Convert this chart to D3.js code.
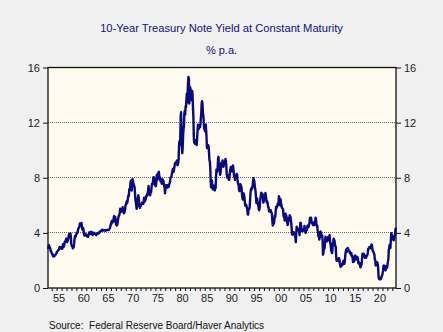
<!DOCTYPE html>
<html>
<head>
<meta charset="utf-8">
<script src="https://cdn.jsdelivr.net/npm/d3@7"></script>
<style>
  html, body { margin: 0; padding: 0; background: #f0f0f0; }
  svg { display: block; font-family: "Liberation Sans", Arial, sans-serif; }
</style>
</head>
<body>
<svg id="chart" width="443" height="332"></svg>
<script>
// Monthly 10-year constant maturity yield, % p.a., starting April 1953
const startYear = 1953
const startMonth = 4
const yields = [
  2.83, 3.05, 3.11, 2.93, 2.95, 2.87, 2.66, 2.68, 2.59,
  2.48, 2.47, 2.37, 2.29, 2.37, 2.38, 2.30, 2.36, 2.38, 2.43, 2.48, 2.51,
  2.61, 2.65, 2.68, 2.75, 2.76, 2.78, 2.90, 2.97, 2.97, 2.88, 2.89, 2.96,
  2.90, 2.84, 2.96, 3.18, 3.07, 3.00, 3.11, 3.33, 3.38, 3.34, 3.49, 3.59,
  3.46, 3.34, 3.41, 3.48, 3.60, 3.80, 3.93, 3.93, 3.92, 3.97, 3.72, 3.21,
  3.09, 3.05, 2.98, 2.88, 2.92, 2.97, 3.20, 3.54, 3.76, 3.80, 3.74, 3.86,
  4.02, 3.96, 3.99, 4.12, 4.31, 4.34, 4.40, 4.43, 4.68, 4.53, 4.53, 4.69,
  4.72, 4.49, 4.25, 4.28, 4.35, 4.15, 3.90, 3.80, 3.80, 3.89, 3.93, 3.84,
  3.84, 3.78, 3.74, 3.78, 3.71, 3.88, 3.92, 4.04, 3.98, 3.92, 3.94, 4.06,
  4.08, 4.04, 3.93, 3.84, 3.87, 3.91, 4.01, 3.98, 3.98, 3.93, 3.92, 3.86,
  3.83, 3.92, 3.93, 3.97, 3.93, 3.99, 4.02, 4.00, 4.08, 4.11, 4.12, 4.13,
  4.17, 4.15, 4.22, 4.23, 4.20, 4.17, 4.19, 4.19, 4.20, 4.19, 4.15, 4.18,
  4.19, 4.21, 4.21, 4.20, 4.21, 4.21, 4.20, 4.25, 4.29, 4.35, 4.45, 4.62,
  4.61, 4.83, 4.87, 4.75, 4.78, 4.81, 5.02, 5.22, 5.18, 5.01, 5.16, 4.84,
  4.58, 4.63, 4.54, 4.59, 4.85, 5.02, 5.16, 5.28, 5.30, 5.48, 5.75, 5.70,
  5.53, 5.56, 5.74, 5.64, 5.87, 5.72, 5.50, 5.42, 5.46, 5.58, 5.70, 6.03,
  6.04, 6.19, 6.30, 6.17, 6.32, 6.57, 6.72, 6.69, 7.16, 7.10, 7.14, 7.65,
  7.79, 7.24, 7.07, 7.39, 7.91, 7.84, 7.46, 7.53, 7.39, 7.33, 6.84, 6.39,
  6.24, 6.00, 5.74, 5.93, 6.43, 6.52, 6.73, 6.58, 6.14, 5.93, 5.81, 5.93,
  5.95, 6.08, 6.07, 6.19, 6.13, 6.11, 6.11, 6.21, 6.55, 6.48, 6.28, 6.36,
  6.46, 6.64, 6.71, 6.67, 6.85, 6.90, 7.13, 7.40, 7.09, 6.79, 6.73, 6.74,
  6.99, 6.96, 7.21, 7.51, 7.58, 7.54, 7.81, 8.04, 8.04, 7.90, 7.68, 7.43,
  7.50, 7.39, 7.73, 8.23, 8.06, 7.86, 8.06, 8.40, 8.43, 8.14, 8.05, 8.00,
  7.74, 7.79, 7.73, 7.56, 7.90, 7.86, 7.83, 7.77, 7.59, 7.41, 7.29, 6.87,
  7.21, 7.39, 7.46, 7.37, 7.46, 7.28, 7.33, 7.40, 7.34, 7.52, 7.58, 7.69,
  7.96, 8.03, 8.04, 8.15, 8.35, 8.46, 8.64, 8.41, 8.42, 8.64, 8.81, 9.01,
  9.10, 9.10, 9.12, 9.18, 9.25, 8.91, 8.95, 9.03, 9.33, 10.30, 10.65, 10.39,
  10.80, 12.41, 12.75, 11.47, 10.18, 9.78, 10.25, 11.10, 11.51, 11.75, 12.68, 12.84,
  12.57, 13.19, 13.12, 13.68, 14.10, 13.47, 14.28, 14.94, 15.32, 15.15, 13.39, 13.72,
  14.59, 14.43, 13.86, 13.87, 13.62, 14.30, 13.95, 13.06, 12.34, 10.91, 10.55, 10.54,
  10.46, 10.72, 10.51, 10.40, 10.38, 10.85, 11.38, 11.85, 11.65, 11.54, 11.69, 11.83,
  11.67, 11.84, 12.32, 12.63, 13.41, 13.56, 13.36, 12.72, 12.52, 12.16, 11.57, 11.50,
  11.38, 11.51, 11.86, 11.43, 10.85, 10.16, 10.31, 10.33, 10.37, 10.24, 9.78, 9.26,
  9.19, 8.70, 7.78, 7.30, 7.71, 7.80, 7.30, 7.17, 7.45, 7.43, 7.25, 7.11,
  7.08, 7.25, 7.25, 8.02, 8.61, 8.40, 8.45, 8.76, 9.42, 9.52, 8.86, 8.99,
  8.67, 8.21, 8.37, 8.72, 9.09, 8.92, 9.06, 9.26, 8.98, 8.80, 8.96, 9.11,
  9.09, 9.17, 9.36, 9.18, 8.86, 8.28, 8.02, 8.11, 8.19, 8.01, 7.87, 7.84,
  8.21, 8.47, 8.59, 8.79, 8.76, 8.48, 8.47, 8.75, 8.89, 8.72, 8.39, 8.08,
  8.09, 7.85, 8.11, 8.04, 8.07, 8.28, 8.27, 7.90, 7.65, 7.53, 7.42, 7.09,
  7.03, 7.34, 7.54, 7.48, 7.39, 7.26, 6.84, 6.59, 6.42, 6.59, 6.87, 6.77,
  6.60, 6.26, 5.98, 5.97, 6.04, 5.96, 5.81, 5.68, 5.36, 5.33, 5.72, 5.77,
  5.75, 5.97, 6.48, 6.97, 7.18, 7.10, 7.30, 7.24, 7.46, 7.74, 7.96, 7.81,
  7.78, 7.47, 7.20, 7.06, 6.63, 6.17, 6.28, 6.49, 6.20, 6.04, 5.93, 5.71,
  5.65, 5.81, 6.27, 6.51, 6.74, 6.91, 6.87, 6.64, 6.83, 6.53, 6.20, 6.30,
  6.58, 6.42, 6.69, 6.89, 6.71, 6.49, 6.22, 6.30, 6.21, 6.03, 5.88, 5.81,
  5.54, 5.57, 5.65, 5.64, 5.65, 5.50, 5.46, 5.34, 4.81, 4.53, 4.83, 4.65,
  4.72, 5.00, 5.23, 5.18, 5.54, 5.90, 5.79, 5.94, 5.92, 6.11, 6.03, 6.28,
  6.66, 6.52, 6.26, 5.99, 6.44, 6.10, 6.05, 5.83, 5.80, 5.74, 5.72, 5.24,
  5.16, 5.10, 4.89, 5.14, 5.39, 5.28, 5.24, 4.97, 4.73, 4.57, 4.65, 5.09,
  5.04, 4.91, 5.28, 5.21, 5.16, 4.93, 4.65, 4.26, 3.87, 3.94, 4.05, 4.03,
  4.05, 3.90, 3.81, 3.96, 3.57, 3.33, 3.98, 4.45, 4.27, 4.29, 4.30, 4.27,
  4.15, 4.08, 3.83, 4.35, 4.72, 4.73, 4.50, 4.28, 4.13, 4.10, 4.19, 4.23,
  4.22, 4.17, 4.50, 4.34, 4.14, 4.00, 4.18, 4.26, 4.20, 4.46, 4.54, 4.47,
  4.42, 4.57, 4.72, 4.99, 5.11, 5.11, 5.09, 4.88, 4.72, 4.73, 4.60, 4.56,
  4.76, 4.72, 4.56, 4.69, 4.75, 5.10, 5.00, 4.67, 4.52, 4.53, 4.15, 4.10,
  3.74, 3.74, 3.51, 3.68, 3.88, 4.10, 4.01, 3.89, 3.69, 3.81, 3.53, 2.42,
  2.52, 2.87, 2.82, 2.93, 3.29, 3.72, 3.56, 3.59, 3.40, 3.39, 3.40, 3.59,
  3.73, 3.69, 3.73, 3.85, 3.42, 3.20, 3.01, 2.70, 2.65, 2.54, 2.76, 3.29,
  3.39, 3.58, 3.41, 3.46, 3.17, 3.00, 3.00, 2.30, 1.98, 2.15, 2.01, 1.98,
  1.97, 1.97, 2.17, 2.05, 1.80, 1.62, 1.53, 1.68, 1.72, 1.75, 1.65, 1.72,
  1.91, 1.98, 1.96, 1.76, 1.93, 2.30, 2.58, 2.74, 2.81, 2.62, 2.72, 2.90,
  2.86, 2.71, 2.72, 2.71, 2.56, 2.60, 2.54, 2.42, 2.53, 2.30, 2.33, 2.21,
  1.88, 1.98, 2.04, 1.94, 2.20, 2.36, 2.32, 2.17, 2.17, 2.07, 2.26, 2.24,
  2.09, 1.78, 1.89, 1.81, 1.81, 1.64, 1.50, 1.56, 1.63, 1.76, 2.14, 2.49,
  2.43, 2.42, 2.48, 2.30, 2.30, 2.19, 2.32, 2.21, 2.20, 2.36, 2.35, 2.40,
  2.58, 2.86, 2.84, 2.87, 2.98, 2.91, 2.89, 2.89, 3.00, 3.15, 3.12, 2.83,
  2.71, 2.68, 2.57, 2.53, 2.40, 2.07, 2.06, 1.63, 1.70, 1.71, 1.81, 1.86,
  1.76, 1.50, 0.87, 0.66, 0.67, 0.73, 0.62, 0.65, 0.68, 0.79, 0.87, 0.93,
  1.08, 1.26, 1.61, 1.64, 1.62, 1.52, 1.32, 1.28, 1.37, 1.58, 1.56, 1.47,
  1.76, 1.93, 2.13, 2.75, 2.90, 3.14, 2.90, 2.90, 3.52, 3.98, 3.89, 3.62,
  3.53, 3.75, 3.66, 3.46, 3.57, 3.75, 3.90, 4.17, 4.38
]

const yTicks = [0, 4, 8, 12, 16]
const gridValues = [4, 8, 12]
const labelYears = [1955, 1960, 1965, 1970, 1975, 1980, 1985, 1990, 1995, 2000, 2005, 2010, 2015, 2020]

const title = "10-Year Treasury Note Yield at Constant Maturity"
const subtitle = "% p.a."
const source = "Source:  Federal Reserve Board/Haver Analytics"

const W = 443, H = 332
const PLOT = { LEFT: 48, RIGHT: 396, TOP: 67.5, BOTTOM: 288 }
const NAVY = "#10107a"

const svg = d3.select("#chart")

// convert month index to fractional year (mid-month)
const points = yields.map((v, i) => {
  const m = startMonth - 1 + i
  return [startYear + m / 12 + 1 / 24, v]
})

const xScale = d3.scaleLinear()
  .domain([startYear + (startMonth - 1) / 12, points[points.length - 1][0] + 1 / 24])
  .range([PLOT.LEFT, PLOT.RIGHT])

const yScale = d3.scaleLinear()
  .domain([0, 16])
  .range([PLOT.BOTTOM, PLOT.TOP])

svg.append("rect")
  .attr("width", W).attr("height", H)
  .attr("fill", "#f0f0f0")

svg.append("rect")
  .attr("x", PLOT.LEFT).attr("y", PLOT.TOP)
  .attr("width", PLOT.RIGHT - PLOT.LEFT)
  .attr("height", PLOT.BOTTOM - PLOT.TOP)
  .attr("fill", "#fffbef")

// dotted grid
svg.append("g")
  .selectAll("line")
  .data(gridValues)
  .join("line")
  .attr("x1", PLOT.LEFT).attr("x2", PLOT.RIGHT)
  .attr("y1", d => yScale(d)).attr("y2", d => yScale(d))
  .attr("stroke", "#666")
  .attr("stroke-width", 1)
  .attr("stroke-dasharray", "1,1")
  .attr("shape-rendering", "crispEdges")

// the series
const line = d3.line()
  .x(d => xScale(d[0]))
  .y(d => yScale(d[1]))

svg.append("path")
  .datum(points)
  .attr("fill", "none")
  .attr("stroke", "#0a0a80")
  .attr("stroke-width", 2.4)
  .attr("stroke-linejoin", "round")
  .attr("d", line)

// frame
svg.append("rect")
  .attr("x", PLOT.LEFT).attr("y", PLOT.TOP)
  .attr("width", PLOT.RIGHT - PLOT.LEFT)
  .attr("height", PLOT.BOTTOM - PLOT.TOP)
  .attr("fill", "none")
  .attr("stroke", "#111")
  .attr("stroke-width", 1.3)

const leftAxis = d3.axisLeft(yScale).tickValues(yTicks).tickSize(5).tickPadding(3)
const rightAxis = d3.axisRight(yScale).tickValues(yTicks).tickSize(5).tickPadding(3)

const styleAxis = g => {
  g.select(".domain").remove()
  g.selectAll("line").attr("stroke", "#111")
  g.selectAll("text")
    .attr("fill", "#222")
    .style("font-size", "11px")
    .style("font-family", "'Liberation Sans', Arial, sans-serif")
}

svg.append("g")
  .attr("transform", `translate(${PLOT.LEFT},0)`)
  .call(leftAxis)
  .call(styleAxis)

svg.append("g")
  .attr("transform", `translate(${PLOT.RIGHT},0)`)
  .call(rightAxis)
  .call(styleAxis)

// yearly minor ticks under the bottom edge
const yearTicks = d3.range(1954, 2024)
svg.append("g")
  .attr("transform", `translate(0,${PLOT.BOTTOM})`)
  .call(d3.axisBottom(xScale).tickValues(yearTicks).tickSize(3).tickFormat(""))
  .call(g => {
    g.select(".domain").remove()
    g.selectAll("line").attr("stroke", "#111")
  })

// year labels centred on each year
svg.append("g")
  .selectAll("text")
  .data(labelYears)
  .join("text")
  .attr("x", d => xScale(d + 0.5))
  .attr("y", PLOT.BOTTOM + 14)
  .attr("text-anchor", "middle")
  .attr("fill", "#222")
  .style("font-size", "11px")
  .text(d => String(d % 100).padStart(2, "0"))

svg.append("text")
  .attr("x", W / 2)
  .attr("y", 32)
  .attr("text-anchor", "middle")
  .attr("fill", NAVY)
  .style("font-size", "11.2px")
  .text(title)

svg.append("text")
  .attr("x", W / 2)
  .attr("y", 54)
  .attr("text-anchor", "middle")
  .attr("fill", NAVY)
  .style("font-size", "11px")
  .text(subtitle)

svg.append("text")
  .attr("x", 49)
  .attr("y", 328.5)
  .attr("fill", "#111")
  .style("font-size", "10px")
  .style("white-space", "pre")
  .attr("xml:space", "preserve")
  .text(source)
</script>
</body>
</html>
